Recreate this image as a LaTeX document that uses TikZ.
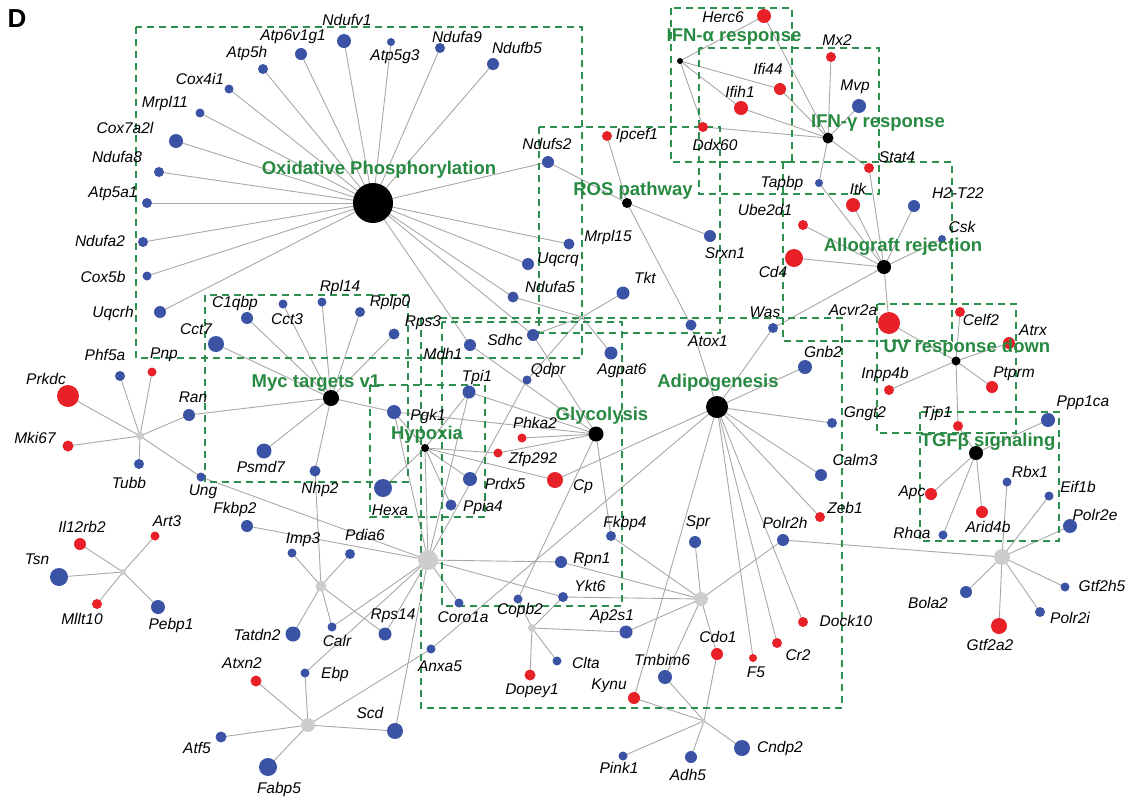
\documentclass[tikz,border=0pt]{standalone}
\usepackage{fontspec}
\setmainfont{Liberation Sans}
\pgfdeclarelayer{bg}
\pgfsetlayers{bg,main}
\definecolor{nblue}{RGB}{58,83,164}
\definecolor{nred}{RGB}{232,33,41}
\definecolor{ngray}{RGB}{205,205,205}
\definecolor{egray}{RGB}{168,168,168}
\definecolor{dgreen}{RGB}{47,143,78}
\definecolor{hgreen}{RGB}{40,138,66}
\newcommand\gn[7]{\node[gnode,minimum size={2*#4pt},fill=#5] (#1) at (#2,#3) {};\node[lbl] (#1-t) at (#6,#7) {#1};}
\newcommand\hb[5]{\node[gnode,minimum size={2*#4pt},fill=#5] (#1) at (#2,#3) {};}
\newcommand\spoke[2]{\foreach \tt in {#2} {\draw[edge] (#1.center) -- (\tt.center);}}
\begin{document}
\begin{tikzpicture}[x=1pt,y=-1pt,
  gnode/.style={circle,inner sep=0pt,draw=none},
  lbl/.style={font=\fontsize{15.5}{16}\selectfont\itshape,inner sep=0pt},
  ttl/.style={font=\fontsize{18.5}{19}\selectfont\bfseries,text=hgreen,inner sep=0pt},
  pbox/.style={draw=dgreen,line width=1.8pt,dash pattern=on 7pt off 5pt},
  edge/.style={draw=egray,line width=0.9pt}]
\useasboundingbox (0,0) rectangle (1128,807);
\node[font=\fontsize{26}{26}\selectfont\bfseries,inner sep=0pt] (D) at (17,19) {D};
% hubs
\hb{OX}{373}{203}{20}{black}
\hb{ROS}{627}{203}{5}{black}
\hb{IFNa}{680}{61}{3}{black}
\hb{IFNg}{828}{138}{5.5}{black}
\hb{ALLO}{884}{267}{7}{black}
\hb{UV}{956}{361}{4.5}{black}
\hb{TGF}{976}{453}{7}{black}
\hb{MYC}{331}{398}{8}{black}
\hb{HYP}{425}{448}{4}{black}
\hb{GLY}{596}{434}{7.5}{black}
\hb{ADI}{717}{407}{11}{black}
\hb{G1}{140}{436}{4}{ngray}
\hb{G2}{123}{572}{3}{ngray}
\hb{G3}{321}{586}{5.5}{ngray}
\hb{G4}{428}{560}{10}{ngray}
\hb{G5}{308}{725}{7}{ngray}
\hb{G6}{532}{628}{4}{ngray}
\hb{G7}{701}{599}{7}{ngray}
\hb{G8}{704}{721}{2}{ngray}
\hb{G9}{1002}{557}{8}{ngray}
\hb{G10}{582}{317}{1.5}{ngray}
% genes
\gn{Ndufv1}{344}{41}{7}{nblue}{347}{20}
\gn{Atp6v1g1}{301}{54}{6}{nblue}{293}{37}
\gn{Atp5h}{263}{69}{5}{nblue}{247}{53}
\gn{Cox4i1}{229}{89}{4.5}{nblue}{200}{79}
\gn{Mrpl11}{200}{113}{4.5}{nblue}{165}{103}
\gn{Cox7a2l}{176}{141}{7}{nblue}{125}{128}
\gn{Ndufa8}{159}{172}{5}{nblue}{117}{157}
\gn{Atp5a1}{147}{203}{5}{nblue}{113}{194}
\gn{Ndufa2}{143}{242}{5}{nblue}{100}{241}
\gn{Cox5b}{147}{276}{4.5}{nblue}{103}{277}
\gn{Uqcrh}{160}{312}{6}{nblue}{113}{313}
\gn{Atp5g3}{391}{42}{4}{nblue}{395}{57}
\gn{Ndufa9}{440}{48}{5}{nblue}{457}{37}
\gn{Ndufb5}{493}{64}{6}{nblue}{517}{48}
\gn{Ndufs2}{548}{162}{6}{nblue}{547}{144}
\gn{Mrpl15}{569}{244}{5.5}{nblue}{608}{237}
\gn{Uqcrq}{528}{264}{6}{nblue}{558}{260}
\gn{Ndufa5}{513}{297}{5.5}{nblue}{550}{287}
\gn{Sdhc}{533}{335}{6}{nblue}{505}{340}
\gn{Mdh1}{470}{345}{6}{nblue}{443}{354}
\gn{Tkt}{623}{293}{6.5}{nblue}{645}{278}
\gn{Agpat6}{611}{353}{6.5}{nblue}{622}{371}
\gn{Qdpr}{527}{380}{4.5}{nblue}{548}{370}
\gn{Ipcef1}{607}{136}{5}{nred}{637}{135}
\gn{Srxn1}{710}{236}{6}{nblue}{725}{253}
\gn{Atox1}{691}{325}{5.5}{nblue}{708}{341}
\gn{Herc6}{764}{16}{7}{nred}{723}{17}
\gn{Ifih1}{741}{108}{7}{nred}{740}{92}
\gn{Ddx60}{703}{127}{5}{nred}{715}{145}
\gn{Ifi44}{780}{89}{6}{nred}{768}{69}
\gn{Mx2}{831}{57}{5}{nred}{837}{40}
\gn{Mvp}{859}{106}{7}{nblue}{855}{87}
\gn{Stat4}{869}{168}{5}{nred}{897}{157}
\gn{Tapbp}{819}{183}{4}{nblue}{782}{183}
\gn{Itk}{853}{205}{7}{nred}{858}{189}
\gn{H2-T22}{914}{206}{6}{nblue}{958}{193}
\gn{Ube2d1}{803}{225}{5}{nred}{765}{210}
\gn{Csk}{942}{239}{4}{nblue}{962}{227}
\gn{Cd4}{794}{258}{9}{nred}{773}{272}
\gn{Was}{773}{328}{5}{nblue}{765}{312}
\gn{Acvr2a}{889}{323}{11}{nred}{853}{310}
\gn{Celf2}{960}{312}{5}{nred}{981}{320}
\gn{Atrx}{1009}{343}{6}{nred}{1033}{330}
\gn{Inpp4b}{889}{390}{5}{nred}{885}{374}
\gn{Ptprm}{992}{387}{6}{nred}{1014}{374}
\gn{Tjp1}{958}{426}{5}{nred}{937}{413}
\gn{Ppp1ca}{1048}{420}{7}{nblue}{1083}{403}
\gn{Apc}{931}{494}{6}{nred}{912}{493}
\gn{Arid4b}{982}{512}{6}{nred}{988}{527}
\gn{Rhoa}{943}{535}{4.5}{nblue}{912}{533}
\gn{Rbx1}{1007}{482}{4.5}{nblue}{1030}{472}
\gn{Eif1b}{1049}{496}{4.5}{nblue}{1078}{487}
\gn{Polr2e}{1070}{526}{7}{nblue}{1095}{515}
\gn{Bola2}{966}{592}{6}{nblue}{928}{603}
\gn{Gtf2a2}{999}{626}{8}{nred}{990}{645}
\gn{Polr2i}{1040}{612}{5}{nblue}{1070}{618}
\gn{Gtf2h5}{1065}{587}{4.5}{nblue}{1102}{586}
\gn{Gnb2}{805}{367}{7}{nblue}{823}{352}
\gn{Gngt2}{832}{423}{5}{nblue}{865}{414}
\gn{Calm3}{821}{475}{6}{nblue}{855}{460}
\gn{Zeb1}{820}{517}{5}{nred}{845}{508}
\gn{Polr2h}{783}{540}{6}{nblue}{785}{523}
\gn{Dock10}{803}{622}{5}{nred}{846}{621}
\gn{Cr2}{777}{643}{5}{nred}{798}{655}
\gn{F5}{753}{658}{4}{nred}{756}{672}
\gn{Cdo1}{717}{654}{6}{nred}{718}{637}
\gn{Kynu}{634}{698}{6}{nred}{609}{686}
\gn{Tmbim6}{665}{677}{7}{nblue}{662}{660}
\gn{Pink1}{623}{756}{4.5}{nblue}{619}{768}
\gn{Adh5}{691}{757}{6}{nblue}{688}{775}
\gn{Cndp2}{742}{748}{8}{nblue}{780}{748}
\gn{Spr}{695}{542}{6}{nblue}{698}{523}
\gn{Fkbp4}{611}{536}{5}{nblue}{625}{523}
\gn{Rpn1}{561}{562}{6}{nblue}{592}{560}
\gn{Ykt6}{563}{597}{5}{nblue}{590}{586}
\gn{Coro1a}{459}{603}{4.5}{nblue}{463}{617}
\gn{Copb2}{518}{599}{4.5}{nblue}{520}{610}
\gn{Ap2s1}{626}{632}{6.5}{nblue}{612}{617}
\gn{Anxa5}{431}{649}{4.5}{nblue}{440}{666}
\gn{Clta}{557}{661}{4.5}{nblue}{586}{663}
\gn{Dopey1}{530}{675}{5.5}{nred}{532}{691}
\gn{Scd}{395}{731}{8}{nblue}{370}{713}
\gn{Rps14}{385}{634}{6.5}{nblue}{393}{616}
\gn{Pdia6}{350}{554}{5}{nblue}{365}{535}
\gn{Imp3}{292}{553}{4.5}{nblue}{303}{540}
\gn{Tatdn2}{293}{634}{7.5}{nblue}{257}{635}
\gn{Calr}{332}{627}{4.5}{nblue}{337}{641}
\gn{Atxn2}{256}{681}{5.5}{nred}{242}{663}
\gn{Ebp}{305}{673}{4.5}{nblue}{335}{674}
\gn{Atf5}{221}{737}{5.5}{nblue}{197}{748}
\gn{Fabp5}{268}{767}{9}{nblue}{279}{789}
\gn{Fkbp2}{247}{526}{6}{nblue}{235}{509}
\gn{Il12rb2}{80}{544}{6}{nred}{82}{527}
\gn{Art3}{155}{536}{4.5}{nred}{167}{521}
\gn{Tsn}{59}{577}{9}{nblue}{37}{559}
\gn{Mllt10}{97}{604}{5}{nred}{82}{619}
\gn{Pebp1}{158}{607}{7}{nblue}{171}{625}
\gn{C1qbp}{247}{318}{6}{nblue}{235}{303}
\gn{Cct3}{283}{304}{4.5}{nblue}{287}{319}
\gn{Rpl14}{322}{302}{4.5}{nblue}{340}{287}
\gn{Rplp0}{360}{312}{5}{nblue}{390}{302}
\gn{Cct7}{216}{344}{8}{nblue}{196}{329}
\gn{Phf5a}{120}{376}{5}{nblue}{105}{355}
\gn{Pnp}{152}{372}{4.5}{nred}{164}{355}
\gn{Prkdc}{68}{396}{11}{nred}{46}{379}
\gn{Ran}{189}{415}{6}{nblue}{193}{397}
\gn{Mki67}{68}{446}{5.5}{nred}{35}{438}
\gn{Tubb}{139}{464}{5}{nblue}{129}{483}
\gn{Ung}{201}{477}{4.5}{nblue}{203}{492}
\gn{Psmd7}{264}{451}{7.5}{nblue}{261}{467}
\gn{Nhp2}{315}{471}{5.5}{nblue}{320}{489}
\gn{Rps3}{394}{334}{5.5}{nblue}{423}{323}
\gn{Tpi1}{469}{392}{6.5}{nblue}{477}{377}
\gn{Pgk1}{394}{412}{7}{nblue}{428}{416}
\gn{Phka2}{522}{438}{4.5}{nred}{535}{423}
\gn{Zfp292}{498}{453}{4.5}{nred}{533}{459}
\gn{Cp}{555}{480}{8}{nred}{583}{487}
\gn{Prdx5}{470}{479}{7}{nblue}{505}{484}
\gn{Hexa}{383}{488}{9}{nblue}{390}{510}
\gn{Ppia4}{451}{505}{5.5}{nblue}{483}{507}
% titles
\node[ttl] (tOX) at (379,170) {Oxidative Phosphorylation};
\node[ttl] (tROS) at (633,191) {ROS pathway};
\node[ttl] (tIFNa) at (734,37) {IFN-α response};
\node[ttl] (tIFNg) at (878,123) {IFN-γ response};
\node[ttl] (tALLO) at (903,247) {Allograft rejection};
\node[ttl] (tUV) at (967,348) {UV response down};
\node[ttl] (tTGF) at (988,442) {TGFβ signaling};
\node[ttl] (tMYC) at (316,383) {Myc targets v1};
\node[ttl] (tHYP) at (427,435) {Hypoxia};
\node[ttl] (tGLY) at (602,416) {Glycolysis};
\node[ttl] (tADI) at (718,383) {Adipogenesis};
\begin{pgfonlayer}{bg}
\spoke{OX}{Ndufv1,Atp6v1g1,Atp5h,Cox4i1,Mrpl11,Cox7a2l,Ndufa8,Atp5a1,Ndufa2,Cox5b,Uqcrh,Atp5g3,Ndufa9,Ndufb5,Ndufs2,Mrpl15,Uqcrq,Ndufa5,Sdhc,Mdh1}
\spoke{ROS}{Ndufs2,Ipcef1,Srxn1,Atox1}
\spoke{IFNa}{Herc6,Ifi44,Ifih1,Ddx60}
\spoke{IFNg}{Herc6,Mx2,Ifi44,Ifih1,Mvp,Ddx60,Stat4,Tapbp}
\spoke{ALLO}{Stat4,Tapbp,Itk,H2-T22,Ube2d1,Csk,Cd4,Was,Acvr2a}
\spoke{UV}{Acvr2a,Celf2,Atrx,Inpp4b,Ptprm,Tjp1}
\spoke{TGF}{Tjp1,Ppp1ca,Apc,Rhoa,Arid4b}
\spoke{G9}{Rbx1,Eif1b,Polr2e,Gtf2h5,Polr2i,Gtf2a2,Bola2,Polr2h}
\spoke{ADI}{Atox1,Was,Gnb2,Gngt2,Calm3,Zeb1,Dock10,Cr2,F5,Kynu,Cp,Anxa5}
\spoke{G7}{Fkbp4,Spr,Rpn1,Ykt6,Ap2s1,Tmbim6,Polr2h,Cdo1}
\spoke{G8}{Kynu,Tmbim6,Pink1,Adh5,Cdo1,Cndp2}
\spoke{G6}{Copb2,Ykt6,Ap2s1,Clta,Dopey1}
\spoke{GLY}{Tpi1,Pgk1,Phka2,Zfp292,Mdh1,Sdhc,Fkbp4,Copb2}
\spoke{G10}{Ndufa5,Tkt,Sdhc,Agpat6,Qdpr}
\spoke{HYP}{Pgk1,Tpi1,Hexa,Zfp292,Cp,Prdx5,Ppia4,G4}
\spoke{G4}{Ung,Fkbp2,Pgk1,Tpi1,Coro1a,Rpn1,Ykt6,Rps14,Calr,Ebp,Scd,Qdpr}
\spoke{G3}{Imp3,Pdia6,Nhp2,Tatdn2,Calr,Rps14}
\spoke{G5}{Atxn2,Ebp,Atf5,Fabp5,Scd,Anxa5}
\spoke{MYC}{C1qbp,Cct3,Rpl14,Rplp0,Cct7,Rps3,Ran,Psmd7,Nhp2,Pgk1}
\spoke{G1}{Phf5a,Pnp,Prkdc,Mki67,Tubb,Ran,Ung}
\spoke{G2}{Il12rb2,Art3,Tsn,Mllt10,Pebp1}
% pathway boxes
\draw[pbox] (136,27) rectangle (582,358);
\draw[pbox] (539,127) rectangle (720,333);
\draw[pbox] (671,8) rectangle (792,162);
\draw[pbox] (699,48) rectangle (879,194);
\draw[pbox] (783,162) rectangle (952,341);
\draw[pbox] (877,304) rectangle (1016,433);
\draw[pbox] (920,412) rectangle (1059,541);
\draw[pbox] (205,295) rectangle (408,482);
\draw[pbox] (370,385) rectangle (485,517);
\draw[pbox] (442,322) rectangle (622,606);
\draw[pbox] (421,318) rectangle (842,708);
\end{pgfonlayer}
\end{tikzpicture}
\end{document}
